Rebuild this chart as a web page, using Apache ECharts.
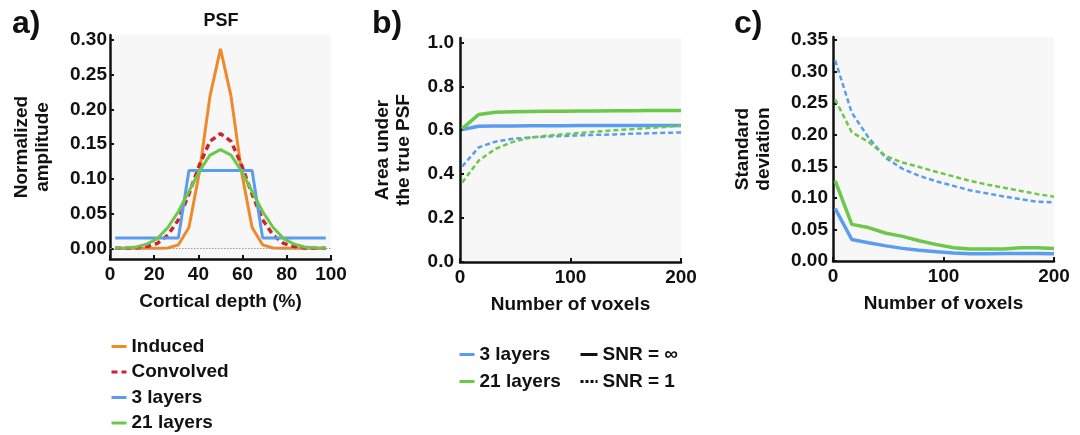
<!DOCTYPE html>
<html>
<head>
<meta charset="utf-8">
<script src="https://cdn.jsdelivr.net/npm/echarts@6/dist/echarts.min.js"></script>
<style>
  html, body { margin: 0; padding: 0; background: #fff; }
  #chart { width: 1080px; height: 435px; }
</style>
</head>
<body>
<div id="chart"></div>
<script>
// a) PSF across cortical depth (21 sample points)
const depth = [2.38, 7.14, 11.9, 16.67, 21.43, 26.19, 30.95, 35.71, 40.48, 45.24, 50,
  54.76, 59.52, 64.29, 69.05, 73.81, 78.57, 83.33, 88.1, 92.86, 97.62]
const induced = [0, 0, 0, 0, 0, 0.0005, 0.005, 0.03, 0.11, 0.219, 0.287,
  0.219, 0.11, 0.03, 0.005, 0.0005, 0, 0, 0, 0, 0]
const convolved = [0, 0, 0.0005, 0.0025, 0.007, 0.019, 0.041, 0.078, 0.12, 0.154, 0.165,
  0.154, 0.12, 0.078, 0.041, 0.019, 0.007, 0.0025, 0.0005, 0, 0]
const layers3 = [0.015, 0.015, 0.015, 0.015, 0.015, 0.015, 0.015, 0.112, 0.112, 0.112, 0.112,
  0.112, 0.112, 0.112, 0.015, 0.015, 0.015, 0.015, 0.015, 0.015, 0.015]
const layers21 = [0, 0.0005, 0.002, 0.006, 0.014, 0.03, 0.053, 0.082, 0.111, 0.134, 0.142,
  0.134, 0.111, 0.082, 0.053, 0.03, 0.014, 0.006, 0.002, 0.0005, 0]

// b) and c) against number of voxels
const voxels = [2, 17, 32, 48, 63, 78, 94, 109, 124, 140, 155, 170, 185, 200]
const aucL3 = [0.603, 0.618, 0.619, 0.619, 0.62, 0.62, 0.62, 0.621, 0.621, 0.621, 0.621, 0.622, 0.622, 0.622]
const aucL21 = [0.607, 0.672, 0.682, 0.684, 0.685, 0.686, 0.687, 0.688, 0.688, 0.689, 0.689, 0.69, 0.69, 0.69]
const aucL3Noisy = [0.435, 0.522, 0.548, 0.561, 0.567, 0.571, 0.574, 0.577, 0.579, 0.581, 0.584, 0.586, 0.588, 0.59]
const aucL21Noisy = [0.362, 0.462, 0.515, 0.547, 0.566, 0.575, 0.582, 0.588, 0.594, 0.6, 0.605, 0.61, 0.615, 0.62]

const sdL3 = [0.083, 0.034, 0.029, 0.024, 0.02, 0.017, 0.0145, 0.0125, 0.0115, 0.0115, 0.012, 0.012, 0.012, 0.0115]
const sdL21 = [0.127, 0.058, 0.053, 0.044, 0.039, 0.032, 0.026, 0.021, 0.019, 0.019, 0.019, 0.021, 0.021, 0.02]
const sdL3Noisy = [0.318, 0.235, 0.196, 0.163, 0.146, 0.135, 0.126, 0.119, 0.112, 0.107, 0.102, 0.098, 0.094, 0.093]
const sdL21Noisy = [0.256, 0.204, 0.189, 0.166, 0.156, 0.149, 0.141, 0.134, 0.127, 0.121, 0.116, 0.111, 0.106, 0.102]

const ticksA = [0, 0.05, 0.1, 0.15, 0.2, 0.25, 0.3]
const ticksB = [0, 0.2, 0.4, 0.6, 0.8, 1.0]
const ticksC = [0, 0.05, 0.1, 0.15, 0.2, 0.25, 0.3, 0.35]

const ORANGE = '#ef8a2c'
const RED = '#cf2231'
const BLUE = '#5a9cf0'
const GREEN = '#6cc84a'
const FONT = '"Liberation Sans", Arial, sans-serif'
const INK = '#111'

const zip = (xs, ys) => xs.map((x, i) => [x, ys[i]])

const txt = { fontFamily: FONT, fontWeight: 'bold', fontSize: 19, color: INK }

function xAx(idx, max, interval, name) {
  return {
    gridIndex: idx, type: 'value', min: 0, max: max, interval: interval,
    name: name, nameLocation: 'middle', nameGap: 33,
    nameTextStyle: txt,
    axisLine: { onZero: false, lineStyle: { color: INK, width: 2.5 } },
    axisTick: { inside: true, length: 4, lineStyle: { color: INK, width: 2 } },
    axisLabel: Object.assign({ margin: 6 }, txt),
    splitLine: { show: false }
  }
}

function yAx(idx, min, max, ticks, digits, name, gap, margin) {
  return {
    gridIndex: idx, type: 'value', min: min, max: max,
    name: name, nameLocation: 'middle', nameRotate: 90, nameGap: gap,
    nameTextStyle: Object.assign({ lineHeight: 21 }, txt),
    axisLine: { onZero: false, lineStyle: { color: INK, width: 2.5 } },
    axisTick: { inside: true, length: 4, customValues: ticks, lineStyle: { color: INK, width: 2 } },
    axisLabel: Object.assign({
      margin: margin, customValues: ticks,
      formatter: v => v.toFixed(digits)
    }, txt),
    splitLine: { show: false }
  }
}

function line(name, xi, data, color, width, dashed) {
  return {
    name: name, type: 'line', xAxisIndex: xi, yAxisIndex: xi,
    data: data, symbol: 'none', z: 3,
    lineStyle: { color: color, width: width, type: dashed ? dashed : 'solid' },
    itemStyle: { color: color }
  }
}

// legends: line only, no marker
function legend(left, top, gap, width, names) {
  return {
    orient: 'vertical', left: left, top: top, padding: 0,
    itemGap: gap, itemWidth: width, itemHeight: 14,
    itemStyle: { opacity: 0 },
    lineStyle: { width: 3 },
    data: names, textStyle: txt, selectedMode: false
  }
}

const option = {
  animation: false,
  backgroundColor: '#fff',
  title: [
    { text: 'a)', left: 12, top: 8, padding: 0, textStyle: { fontFamily: FONT, fontWeight: 'bold', fontSize: 32, color: INK } },
    { text: 'b)', left: 372, top: 8, padding: 0, textStyle: { fontFamily: FONT, fontWeight: 'bold', fontSize: 32, color: INK } },
    { text: 'c)', left: 734, top: 8, padding: 0, textStyle: { fontFamily: FONT, fontWeight: 'bold', fontSize: 32, color: INK } },
    { text: 'PSF', left: 221, top: 12, padding: 0, textAlign: 'center', textStyle: { fontFamily: FONT, fontWeight: 'bold', fontSize: 18, color: INK } }
  ],
  legend: [
    legend(110, 337, 6.5, 15, ['Induced', 'Convolved', '3 layers', '21 layers']),
    legend(458, 345, 8, 15, ['3 layers', '21 layers']),
    legend(579, 345, 8, 17, ['SNR = ∞', 'SNR = 1'])
  ],
  grid: [
    { left: 110, top: 35, width: 221, height: 224, show: true, backgroundColor: '#f7f7f7', borderWidth: 0 },
    { left: 460, top: 38, width: 221, height: 224, show: true, backgroundColor: '#f7f7f7', borderWidth: 0 },
    { left: 833, top: 37, width: 221, height: 224, show: true, backgroundColor: '#f7f7f7', borderWidth: 0 }
  ],
  xAxis: [
    xAx(0, 100, 20, 'Cortical depth (%)'),
    xAx(1, 200, 100, 'Number of voxels'),
    xAx(2, 200, 100, 'Number of voxels')
  ],
  yAxis: [
    yAx(0, -0.0154, 0.307, ticksA, 2, 'Normalized\namplitude', 57, 3),
    yAx(1, 0, 1.02, ticksB, 1, 'Area under\nthe true PSF', 46, 6),
    yAx(2, 0, 0.355, ticksC, 2, 'Standard\ndeviation', 59, 5)
  ],
  series: [
    {
      name: 'zero', type: 'line', xAxisIndex: 0, yAxisIndex: 0, data: [], z: 1,
      markLine: {
        silent: true, symbol: 'none', label: { show: false },
        lineStyle: { color: '#999', width: 1, type: [1.5, 1.5] },
        data: [{ yAxis: 0 }]
      }
    },
    line('Induced', 0, zip(depth, induced), ORANGE, 3),
    line('Convolved', 0, zip(depth, convolved), RED, 3.5, [6, 4]),
    line('3 layers', 0, zip(depth, layers3), BLUE, 3),
    line('21 layers', 0, zip(depth, layers21), GREEN, 3),

    line('3 layers', 1, zip(voxels, aucL3), BLUE, 3.5),
    line('21 layers', 1, zip(voxels, aucL21), GREEN, 3.5),
    line('3 layers, SNR = 1', 1, zip(voxels, aucL3Noisy), BLUE, 2.5, [5, 3]),
    line('21 layers, SNR = 1', 1, zip(voxels, aucL21Noisy), GREEN, 2.5, [5, 3]),
    line('SNR = ∞', 1, [], INK, 3),
    line('SNR = 1', 1, [], INK, 2, [3, 2]),

    line('3 layers', 2, zip(voxels, sdL3), BLUE, 3.5),
    line('21 layers', 2, zip(voxels, sdL21), GREEN, 3.5),
    line('3 layers, SNR = 1', 2, zip(voxels, sdL3Noisy), BLUE, 2.5, [5, 3]),
    line('21 layers, SNR = 1', 2, zip(voxels, sdL21Noisy), GREEN, 2.5, [5, 3])
  ]
}

const chart = echarts.init(document.getElementById('chart'), null, { renderer: 'canvas' })
chart.setOption(option)
</script>
</body>
</html>
